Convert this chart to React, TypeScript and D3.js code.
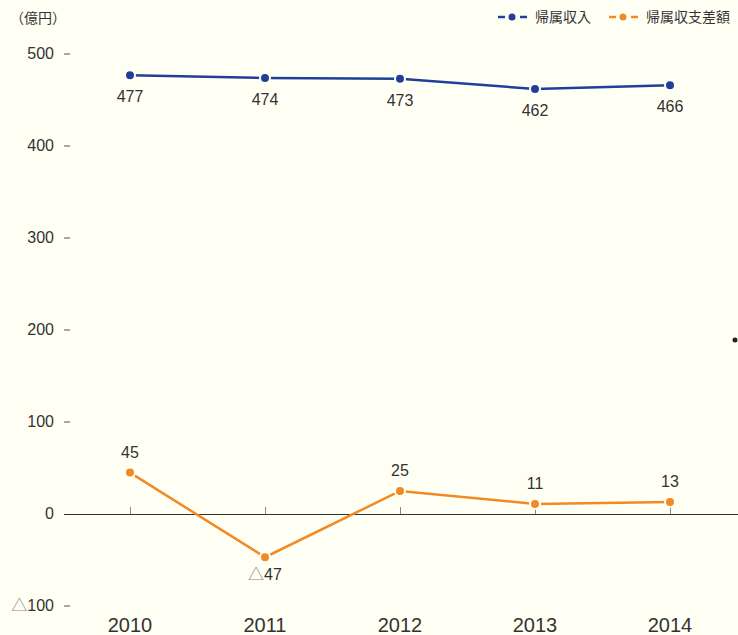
import React from 'react';
import * as d3 from 'd3';

const years = ['2010', '2011', '2012', '2013', '2014'];
const revenue = [477, 474, 473, 462, 466];
const balance = [45, -47, 25, 11, 13];
const yTicks = [500, 400, 300, 200, 100, 0, -100];

const W = 738;
const H = 635;
const BG = '#fffff3';
const BLUE = '#213f9a';
const ORANGE = '#f18a25';
const TEXT = '#333';

const fmt = (v: number) => (v < 0 ? ['△', String(-v)] : ['', String(v)]);

export default function App() {
  const x = d3.scalePoint<string>().domain(years).range([130, 670]);
  const y = d3.scaleLinear().domain([-100, 500]).range([606, 54]);

  const line = d3
    .line<number>()
    .x((d, i) => x(years[i]) as number)
    .y((d) => y(d));

  const font = 'Helvetica, Arial, "Liberation Sans", "Noto Sans CJK JP", sans-serif';

  const label = (v: number, lx: number, ly: number, key: string) => {
    const [pre, num] = fmt(v);
    return (
      <text key={key} x={lx} y={ly} textAnchor="middle" fontSize={16} fill={TEXT}>
        {pre && <tspan fill="#888">{pre}</tspan>}
        {num}
      </text>
    );
  };

  return (
    <svg
      width={W}
      height={H}
      style={{ position: 'absolute', left: 0, top: 0, background: BG, fontFamily: font }}
    >
      <rect width={W} height={H} fill={BG} />
      <text x={10} y={23} fontSize={14} fill={TEXT}>（億円）</text>

      {/* y axis labels and dashes */}
      {yTicks.map((t) => {
        const [pre, num] = fmt(t);
        return (
          <g key={t}>
            <text x={54} y={y(t) + 5} textAnchor="end" fontSize={16} fill={TEXT}>
              {pre && <tspan fill="#888">{pre}</tspan>}
              {num}
            </text>
            {t !== 0 && <line x1={64} x2={70} y1={y(t)} y2={y(t)} stroke="#555" strokeWidth={1} />}
          </g>
        );
      })}

      {/* zero axis */}
      <line x1={64} x2={738} y1={Math.round(y(0)) + 0.5} y2={Math.round(y(0)) + 0.5} stroke="#333" strokeWidth={1} />
      {years.map((yr) => (
        <g key={yr}>
          <line x1={(x(yr) as number) + 0.5} x2={(x(yr) as number) + 0.5} y1={y(0)} y2={y(0) - 7} stroke="#888" strokeWidth={1} />
          <text x={x(yr)} y={632} textAnchor="middle" fontSize={20} fill={TEXT}>{yr}</text>
        </g>
      ))}

      {/* series */}
      <path d={line(revenue) || ''} fill="none" stroke={BLUE} strokeWidth={2.5} />
      <path d={line(balance) || ''} fill="none" stroke={ORANGE} strokeWidth={2.5} />
      {revenue.map((v, i) => (
        <circle key={'r' + i} cx={x(years[i])} cy={y(v)} r={5} fill={BLUE} stroke={BG} strokeWidth={2} />
      ))}
      {balance.map((v, i) => (
        <circle key={'b' + i} cx={x(years[i])} cy={y(v)} r={5} fill={ORANGE} stroke={BG} strokeWidth={2} />
      ))}
      {revenue.map((v, i) => label(v, x(years[i]) as number, y(v) + 27, 'rl' + i))}
      {balance.map((v, i) =>
        label(v, x(years[i]) as number, v < 0 ? y(v) + 23 : y(v) - 15, 'bl' + i)
      )}

      {/* stray dot */}
      <circle cx={735} cy={340} r={2.5} fill="#222" />

      {/* legend */}
      <g>
        <line x1={498} x2={528} y1={17} y2={17} stroke={BLUE} strokeWidth={2.5} strokeDasharray="7,4" />
        <circle cx={512} cy={17} r={4.5} fill={BLUE} stroke={BG} strokeWidth={2} />
        <text x={535} y={22} fontSize={14} fill={TEXT}>帰属収入</text>
        <line x1={609} x2={639} y1={17} y2={17} stroke={ORANGE} strokeWidth={2.5} strokeDasharray="7,4" />
        <circle cx={623} cy={17} r={4.5} fill={ORANGE} stroke={BG} strokeWidth={2} />
        <text x={646} y={22} fontSize={14} fill={TEXT}>帰属収支差額</text>
      </g>
    </svg>
  );
}
